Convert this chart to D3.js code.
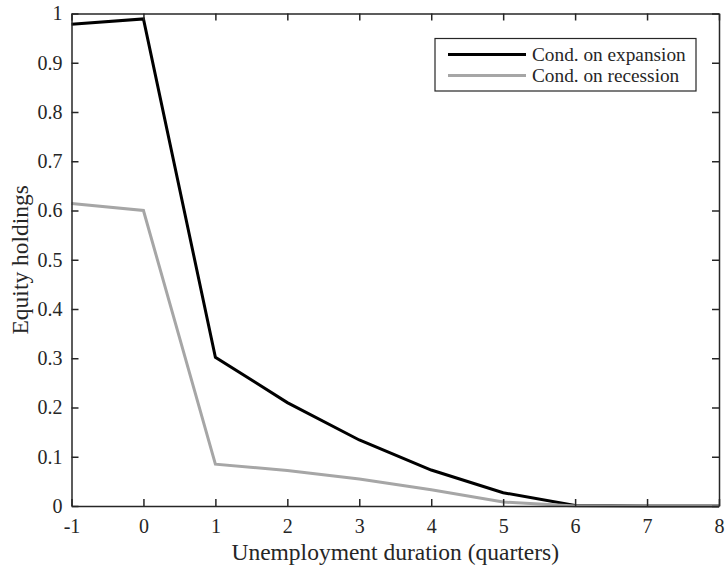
<!DOCTYPE html>
<html>
<head>
<meta charset="utf-8">
<script src="https://cdn.jsdelivr.net/npm/d3@7"></script>
<style>
  body { margin: 0; background: #fff; }
  text { font-family: "Liberation Serif", "Times New Roman", serif; fill: #262626; }
</style>
</head>
<body>
<div id="chart"></div>
<script>
'use strict';

// Quarters of unemployment duration
var quarters = [-1, 0, 1, 2, 3, 4, 5, 6, 7, 8];
var expansion = [0.978, 0.989, 0.302, 0.210, 0.134, 0.073, 0.027, 0.001, 0, 0];
var recession = [0.614, 0.600, 0.085, 0.072, 0.055, 0.033, 0.008, 0, 0, 0];
var yTicks = [0, 0.1, 0.2, 0.3, 0.4, 0.5, 0.6, 0.7, 0.8, 0.9, 1];
var seriesNames = ['Cond. on expansion', 'Cond. on recession'];
var seriesColors = ['#000000', '#a6a6a6'];

var W = 727, H = 565;
var margin = { top: 13.5, right: 8, bottom: 59, left: 71.5 };
var width = W - margin.left - margin.right;
var height = H - margin.top - margin.bottom;

var svg = d3.select('#chart').append('svg')
  .attr('width', W)
  .attr('height', H);

var g = svg.append('g')
  .attr('transform', 'translate(' + margin.left + ',' + margin.top + ')');

var x = d3.scaleLinear().domain([-1, 8]).range([0, width]);
var y = d3.scaleLinear().domain([0, 1]).range([height, 0]);

var line = d3.line()
  .x(function(d) { return x(d[0]); })
  .y(function(d) { return y(d[1]); });

[expansion, recession].forEach(function(vals, i) {
  g.append('path')
    .datum(d3.zip(quarters, vals))
    .attr('fill', 'none')
    .attr('stroke', seriesColors[i])
    .attr('stroke-width', 3)
    .attr('stroke-linejoin', 'miter')
    .attr('d', line);
});

// Axes, drawn after lines so the frame sits on top
function styleAxis(sel) {
  sel.attr('font-family', null).attr('font-size', null);
  sel.select('.domain').attr('stroke', '#262626').attr('stroke-width', 1.5);
  sel.selectAll('.tick line').attr('stroke', '#262626').attr('stroke-width', 1.5);
  sel.selectAll('.tick text').style('font-size', '20px').attr('fill', '#262626');
}

// plain hyphen for negatives, like the original
var fmt = function(d) { return String(d); };

g.append('g')
  .attr('transform', 'translate(0,' + height + ')')
  .call(d3.axisBottom(x).tickValues(quarters).tickFormat(fmt).tickSizeInner(-7).tickSizeOuter(0).tickPadding(13))
  .call(styleAxis);

g.append('g')
  .call(d3.axisTop(x).tickValues(quarters).tickFormat('').tickSizeInner(-7).tickSizeOuter(0))
  .call(styleAxis);

g.append('g')
  .call(d3.axisLeft(y).tickValues(yTicks).tickFormat(fmt).tickSizeInner(-7).tickSizeOuter(0).tickPadding(9))
  .call(styleAxis);

g.append('g')
  .attr('transform', 'translate(' + width + ',0)')
  .call(d3.axisRight(y).tickValues(yTicks).tickFormat('').tickSizeInner(-7).tickSizeOuter(0))
  .call(styleAxis);

// Axis labels
svg.append('text')
  .attr('x', margin.left + width / 2)
  .attr('y', 559.5)
  .attr('text-anchor', 'middle')
  .style('font-size', '23.5px')
  .text('Unemployment duration (quarters)');

svg.append('text')
  .attr('transform', 'translate(28,' + (margin.top + height / 2) + ') rotate(-90)')
  .attr('text-anchor', 'middle')
  .style('font-size', '23.5px')
  .text('Equity holdings');

// Legend
var legend = svg.append('g').attr('transform', 'translate(435,38.5)');

legend.append('rect')
  .attr('width', 261)
  .attr('height', 52.5)
  .attr('fill', '#fff')
  .attr('stroke', '#262626')
  .attr('stroke-width', 1.2);

seriesNames.forEach(function(name, i) {
  var row = legend.append('g').attr('transform', 'translate(0,' + (16 + i * 21) + ')');
  row.append('line')
    .attr('x1', 13).attr('x2', 91)
    .attr('stroke', seriesColors[i])
    .attr('stroke-width', 3);
  row.append('text')
    .attr('x', 97)
    .attr('dy', '0.33em')
    .style('font-size', '19.3px')
    .attr('fill', '#000')
    .text(name);
});
</script>
</body>
</html>
